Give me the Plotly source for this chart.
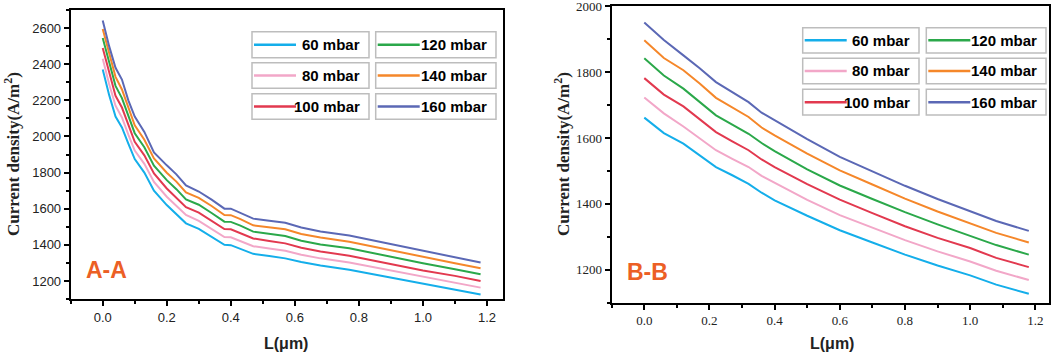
import plotly.graph_objects as go

W, H = 1063, 363

names = ["60 mbar", "80 mbar", "100 mbar", "120 mbar", "140 mbar", "160 mbar"]
colors = ["#14AEEA", "#F2A7C8", "#E2394F", "#2BA84A", "#F5872A", "#5B68B5"]

# Panel A-A
xA = [0, 0.02, 0.04, 0.06, 0.08, 0.10, 0.13, 0.16, 0.20, 0.23, 0.26, 0.30, 0.34,
      0.38, 0.40, 0.43, 0.47, 0.52, 0.57, 0.62, 0.68, 0.77, 0.88, 1.00, 1.10, 1.18]
A_60 = [2370, 2230, 2110, 2050, 1960, 1875, 1800, 1700, 1620, 1570, 1519, 1488, 1445,
        1400, 1398, 1378, 1350, 1338, 1325, 1305, 1285, 1262, 1225, 1185, 1155, 1125]
A_80 = [2430, 2290, 2170, 2105, 2010, 1922, 1848, 1748, 1666, 1615, 1565, 1533, 1490,
        1443, 1442, 1422, 1392, 1380, 1367, 1345, 1325, 1302, 1265, 1224, 1193, 1163]
A_100 = [2490, 2350, 2225, 2160, 2060, 1970, 1895, 1795, 1712, 1662, 1608, 1578, 1533,
         1487, 1486, 1465, 1435, 1421, 1408, 1384, 1363, 1340, 1302, 1258, 1228, 1200]
A_120 = [2545, 2405, 2280, 2212, 2110, 2018, 1940, 1838, 1758, 1708, 1651, 1622, 1576,
         1528, 1527, 1506, 1473, 1461, 1449, 1423, 1402, 1381, 1340, 1298, 1265, 1237]
A_140 = [2595, 2455, 2330, 2260, 2155, 2062, 1982, 1878, 1799, 1750, 1690, 1660, 1615,
         1565, 1564, 1542, 1508, 1497, 1486, 1460, 1440, 1417, 1376, 1332, 1298, 1270]
A_160 = [2642, 2500, 2380, 2315, 2200, 2110, 2025, 1912, 1840, 1790, 1729, 1695, 1650,
         1600, 1600, 1578, 1545, 1533, 1522, 1496, 1474, 1451, 1410, 1368, 1332, 1302]

# Panel B-B
xB = [0, 0.06, 0.12, 0.17, 0.22, 0.27, 0.32, 0.36, 0.40, 0.50, 0.60, 0.70, 0.80,
      0.90, 1.00, 1.08, 1.18]
B_60 = [1662, 1615, 1583, 1548, 1512, 1487, 1461, 1434, 1411, 1364, 1320, 1283, 1246,
        1213, 1183, 1155, 1127]
B_80 = [1723, 1675, 1635, 1598, 1563, 1537, 1512, 1485, 1464, 1412, 1366, 1328, 1290,
        1256, 1225, 1197, 1169]
B_100 = [1782, 1732, 1696, 1656, 1618, 1590, 1563, 1535, 1512, 1460, 1413, 1372, 1332,
         1297, 1266, 1236, 1208]
B_120 = [1842, 1790, 1750, 1710, 1669, 1641, 1613, 1585, 1560, 1505, 1456, 1415, 1375,
         1338, 1304, 1275, 1246]
B_140 = [1897, 1843, 1806, 1766, 1722, 1694, 1664, 1632, 1608, 1553, 1502, 1459, 1416,
         1377, 1342, 1312, 1283]
B_160 = [1951, 1898, 1851, 1812, 1770, 1740, 1709, 1677, 1654, 1597, 1543, 1500, 1455,
         1415, 1378, 1348, 1318]

A_series = [A_60, A_80, A_100, A_120, A_140, A_160]
B_series = [B_60, B_80, B_100, B_120, B_140, B_160]


def px(x):
    return x / W


def py(y):
    return 1 - y / H


fig = go.Figure()
for n, c, ya in zip(names, colors, A_series):
    fig.add_trace(go.Scatter(x=xA, y=ya, mode="lines", name=n, showlegend=False,
                             line=dict(color=c, width=2), xaxis="x", yaxis="y"))
for n, c, yb in zip(names, colors, B_series):
    fig.add_trace(go.Scatter(x=xB, y=yb, mode="lines", name=n, showlegend=False,
                             line=dict(color=c, width=2), xaxis="x2", yaxis="y2"))

sans = "Liberation Sans, Arial, sans-serif"
serif = "Liberation Serif, Times New Roman, serif"

common = dict(showline=True, linecolor="black", linewidth=2, mirror=True,
              ticks="outside", ticklen=5, tickwidth=1.5, tickcolor="black",
              showgrid=False, zeroline=False, automargin=False,
              ticklabeloverflow="allow")

fig.update_layout(
    width=W, height=H, margin=dict(l=0, r=0, t=0, b=0, pad=0),
    paper_bgcolor="white", plot_bgcolor="white", showlegend=False,
    xaxis=dict(domain=[px(70.7), px(503)], range=[-0.1, 1.25], anchor="y",
               tickvals=[0, 0.2, 0.4, 0.6, 0.8, 1.0, 1.2],
               ticktext=["0.0", "0.2", "0.4", "0.6", "0.8", "1.0", "1.2"],
               minor=dict(dtick=0.1, tick0=0, ticks="outside", ticklen=3, tickcolor="black"),
               tickfont=dict(family=sans, size=13, color="#222"), **common),
    yaxis=dict(domain=[py(299), py(10)], range=[1100, 2700], anchor="x",
               tickvals=[1200, 1400, 1600, 1800, 2000, 2200, 2400, 2600],
               minor=dict(dtick=100, tick0=1100, ticks="outside", ticklen=3, tickcolor="black"),
               tickfont=dict(family=sans, size=13, color="#222"), **common),
    xaxis2=dict(domain=[px(611.7), px(1049)], range=[-0.1, 1.242], anchor="y2",
                tickvals=[0, 0.2, 0.4, 0.6, 0.8, 1.0, 1.2],
                ticktext=["0.0", "0.2", "0.4", "0.6", "0.8", "1.0", "1.2"],
                minor=dict(dtick=0.1, tick0=0, ticks="outside", ticklen=3, tickcolor="black"),
                tickfont=dict(family=serif, size=13, color="#222"), **common),
    yaxis2=dict(domain=[py(302.7), py(6)], range=[1100, 2001], anchor="x2",
                tickvals=[1200, 1400, 1600, 1800, 2000],
                minor=dict(dtick=100, tick0=1100, ticks="outside", ticklen=3, tickcolor="black"),
                tickfont=dict(family=serif, size=13, color="#222"), **common),
)

annots = []
# Axis titles
for xc in (12, 562):
    annots.append(dict(x=px(xc), y=py(154), xref="paper", yref="paper", showarrow=False,
                       text="<b>Current density(A/m<sup>2</sup>)</b>", textangle=-90,
                       font=dict(family=serif, size=17, color="#222"),
                       xanchor="center", yanchor="middle"))
for xc in (286, 832):
    annots.append(dict(x=px(xc), y=py(343), xref="paper", yref="paper", showarrow=False,
                       text="<b>L(μm)</b>", font=dict(family=sans, size=16, color="#222"),
                       xanchor="center", yanchor="middle"))
# Panel labels
for (xc, yc, t) in ((106.5, 270, "A-A"), (647, 272, "B-B")):
    annots.append(dict(x=px(xc), y=py(yc), xref="paper", yref="paper", showarrow=False,
                       text="<b>%s</b>" % t, font=dict(family=sans, size=23, color="#EC5F25"),
                       xanchor="center", yanchor="middle"))

shapes = []
legend_layouts = [
    dict(cols=[(252, 369), (375.7, 496)], rows=[(31.7, 57.7), (62.7, 88.3), (93.7, 119.3)]),
    dict(cols=[(802.7, 919), (926.3, 1046)], rows=[(27.7, 53), (58.3, 83.7), (89.3, 115)]),
]
for lay in legend_layouts:
    for i, (n, c) in enumerate(zip(names, colors)):
        col, row = divmod(i, 3)
        x0, x1 = lay["cols"][col]
        y0, y1 = lay["rows"][row]
        ym = (y0 + y1) / 2
        shapes.append(dict(type="rect", xref="paper", yref="paper",
                           x0=px(x0), x1=px(x1), y0=py(y1), y1=py(y0),
                           line=dict(color="#BDBDBD", width=1.5), fillcolor="white"))
        shapes.append(dict(type="line", xref="paper", yref="paper",
                           x0=px(x0 + 2), x1=px(x0 + 44), y0=py(ym), y1=py(ym),
                           line=dict(color=c, width=2.5)))
        annots.append(dict(x=px(x1 - 7), y=py(ym), xref="paper", yref="paper",
                           showarrow=False, text="<b>%s</b>" % n,
                           font=dict(family=sans, size=15, color="black"),
                           xanchor="right", yanchor="middle"))

fig.update_layout(annotations=annots, shapes=shapes)
fig.write_html("out.html", config={"displayModeBar": False},
               post_script="document.body.style.margin='0';document.body.style.padding='0';")
